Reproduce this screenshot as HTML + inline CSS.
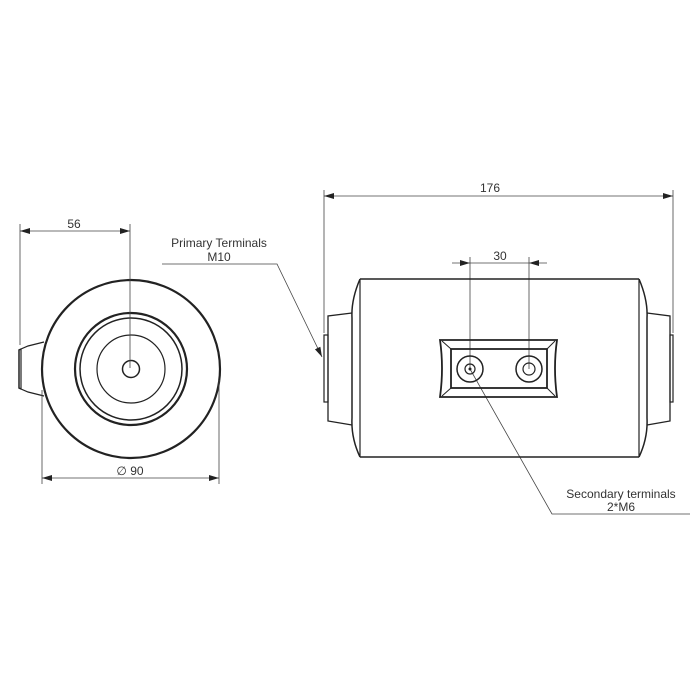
<!DOCTYPE html>
<html><head><style>body{margin:0;background:#fff}svg{display:block}text{font-family:"Liberation Sans",sans-serif;font-size:12px;fill:#333}</style></head>
<body>
<svg width="700" height="700" viewBox="0 0 700 700">
<defs><marker id="a" viewBox="0 0 10 6" refX="10" refY="3" markerWidth="10" markerHeight="6" orient="auto-start-reverse" markerUnits="userSpaceOnUse"><path d="M0,0L10,3L0,6z" fill="#222"/></marker></defs>
<g fill="none" stroke="#222">
<path d="M44,342 L28,346 L21,349 L21,389 L28,392 L44,396" stroke-width="1.2"/>
<path d="M21,349 L19,350 L19,388 L21,389" stroke-width="1.5"/>
<circle cx="131" cy="369" r="89" stroke-width="2.2"/>
<circle cx="131" cy="369" r="56" stroke-width="2.2"/>
<circle cx="131" cy="369" r="51" stroke-width="1.5"/>
<circle cx="131" cy="369" r="34" stroke-width="1.2"/>
<circle cx="131" cy="369" r="8.5" stroke-width="1.5"/>
<g stroke-width="0.8" stroke="#444">
<line x1="20" y1="224" x2="20" y2="345"/>
<line x1="130" y1="224" x2="130" y2="368"/>
<line x1="20" y1="231" x2="130" y2="231" marker-start="url(#a)" marker-end="url(#a)"/>
<line x1="42" y1="390" x2="42" y2="484"/>
<line x1="219" y1="380" x2="219" y2="484"/>
<line x1="42" y1="478" x2="219" y2="478" marker-start="url(#a)" marker-end="url(#a)"/>
<line x1="324" y1="190" x2="324" y2="333"/>
<line x1="673" y1="190" x2="673" y2="333"/>
<line x1="324" y1="196" x2="673" y2="196" marker-start="url(#a)" marker-end="url(#a)"/>
<line x1="470" y1="257" x2="470" y2="369"/>
<line x1="529" y1="257" x2="529" y2="369"/>
<line x1="452" y1="263" x2="470" y2="263" marker-end="url(#a)"/>
<line x1="547" y1="263" x2="529" y2="263" marker-end="url(#a)"/>
<line x1="470" y1="263" x2="529" y2="263"/>
<polyline points="162,264 277,264 322,357" marker-end="url(#a)"/>
<polyline points="470,369 552,514 690,514"/>
</g>
<path d="M360,279 L639,279 M360,457 L639,457" stroke-width="1.5"/>
<path d="M360,279 Q351,300 352,318 L352,418 Q351,438 360,457" stroke-width="1.5"/>
<line x1="360" y1="279" x2="360" y2="457" stroke-width="1.2"/>
<path d="M639,279 Q648,300 647,318 L647,418 Q648,438 639,457" stroke-width="1.5"/>
<line x1="639" y1="279" x2="639" y2="457" stroke-width="1.2"/>
<path d="M352,313 L328,316 L328,421 L352,425" stroke-width="1.3"/>
<rect x="324" y="335" width="4" height="67" stroke-width="1.2"/>
<path d="M647,313 L670,316 L670,421 L647,425" stroke-width="1.3"/>
<rect x="670" y="335" width="3" height="67" stroke-width="1.2"/>
<path d="M440,340 L557,340 Q553,368 557,397 L440,397 Q444,368 440,340z" stroke-width="1.8"/>
<rect x="451" y="349" width="96" height="39" stroke-width="1.8"/>
<path d="M442,341 L451,349 M555,341 L547,349 M442,396 L451,388 M555,396 L547,388" stroke-width="1"/>
<circle cx="470" cy="369" r="13" stroke-width="1.5"/>
<circle cx="470" cy="369" r="5" stroke-width="1.2"/>
<circle cx="529" cy="369" r="13" stroke-width="1.5"/>
<circle cx="529" cy="369" r="6" stroke-width="1.2"/>
</g>
<circle cx="470" cy="369" r="1.5" fill="#222"/>
<text x="74" y="228" text-anchor="middle">56</text>
<text x="130" y="475" text-anchor="middle">∅ 90</text>
<text x="490" y="192" text-anchor="middle">176</text>
<text x="500" y="260" text-anchor="middle">30</text>
<text x="219" y="247" text-anchor="middle">Primary Terminals</text>
<text x="219" y="261" text-anchor="middle">M10</text>
<text x="621" y="498" text-anchor="middle">Secondary terminals</text>
<text x="621" y="511" text-anchor="middle">2*M6</text>
</svg>
</body></html>
